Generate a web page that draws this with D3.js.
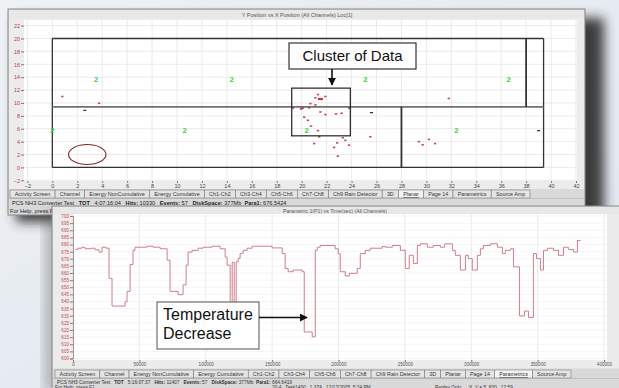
<!DOCTYPE html>
<html><head><meta charset="utf-8">
<script src="https://cdn.jsdelivr.net/npm/d3@7"></script>
<style>
body{margin:0;overflow:hidden;background:#e9eef3}
svg{display:block;font-family:"Liberation Sans",Arial,sans-serif}
</style>
</head><body>
<svg id="c" width="619" height="388"></svg>
<script>
// ---------------- DATA ----------------
// Top chart: Y Position vs X Position
const topXTicks = [-2,0,2,4,6,8,10,12,14,16,18,20,22,24,26,28,30,32,34,36,38,40,42];
const topYTicks = [-2,0,2,4,6,8,10,12,14,16,18,20,22];
const sensorX = [0, 3.5, 10.6, 14.4, 20.4, 25.1, 32.4, 36.6];
const sensorY = [5.7, 13.7, 5.7, 13.7, 5.8, 13.7, 5.8, 13.7];
const eventX = [0.8, 3.75, 19.3, 20.0, 20.2, 20.5, 27.3, 27.8, 31.8, 25.5, 29.4, 29.7, 30.2, 30.7,
  21.3, 21.1, 21.9, 21.1, 20.6, 20.1, 21.5, 21.9, 22.75, 23.2, 23.8, 20.75, 21.3, 21.4, 21.0,
  23.3, 22.85, 23.5, 23.8, 22.6, 22.9, 20.7, 19.95];
const eventY = [11.0, 9.95, 9.2, 9.2, 7.8, 7.3, 15.5, 15.8, 10.7, 4.75, 4.0, 3.5, 4.35, 3.7,
  11.3, 10.8, 11.0, 9.7, 9.25, 9.2, 8.6, 8.2, 8.3, 8.4, 9.2, 6.4, 5.7, 4.75, 3.7,
  4.6, 3.8, 4.2, 3.45, 3.1, 1.75, 9.9, 9.05];
const brightX = [21.5];
const brightY = [10.6];
const darkX = [2.6, 25.6, 39.0];
const darkY = [8.85, 8.5, 5.7];
const layoutSegX1 = [0, 39.4, 39.4, 0, 0, 38, 28];
const layoutSegY1 = [0, 0, 20, 20, 9.4, 9.4, 0];
const layoutSegX2 = [39.4, 39.4, 0, 0, 39.4, 38, 28];
const layoutSegY2 = [0, 20, 20, 0, 9.4, 20, 9.4];
const ellipseC = [2.8, 2.0];
const ellipseR = [1.5, 1.55];

// Bottom chart: Parametric 1 (P1) vs Time
const stepTime = [1500,3770,6790,9050,13570,16590,19600,21870,24880,27140,29400,39200,40700,43000,45200,46700,
  55800,60300,65600,70900,73100,79200,82900,85200,86700,89700,94300,98000,104800,110800,114600,116100,
  118400,119900,121400,122900,124400,125900,128200,131200,135000,150000,157600,159800,162100,165900,
  172700,174200,180200,182500,184000,186200,197500,199800,201300,205100,208100,214100,216400,220200,
  223900,233000,235200,240500,246600,250300,253300,256400,259400,261600,266900,271400,276700,280000,
  285800,288000,291800,295600,297800,300800,304600,306900,309100,314400,319700,323500,325700,329500,
  331800,336300,340100,343100,346800,349100,352100,354400,357400,361900,365700,369500,373200,377000,380000];
const stepValue = [676.6,677.4,678.1,677.0,677.4,676.3,674.7,678.1,677.4,656.3,636.8,639.8,647.1,666.0,675.9,678.1,
  678.8,678.1,677.0,669.0,647.1,644.8,651.7,665.5,674.7,675.9,677.4,678.1,678.8,677.0,671.2,665.5,
  637.9,667.6,637.9,667.8,670.3,673.8,675.9,677.4,678.8,677.6,673.6,663.2,660.9,662.1,
  660.9,618.6,615.2,675.9,678.1,679.3,677.0,673.6,660.9,657.9,659.8,663.2,673.6,675.9,
  677.4,678.6,678.1,679.3,675.9,663.2,672.4,666.7,679.3,680.5,678.1,679.3,678.1,680.5,
  675.9,672.4,662.1,672.4,670.1,662.1,672.4,677.0,679.3,680.5,678.1,673.6,675.9,677.0,
  664.3,629.9,633.3,628.8,673.6,670.1,662.1,675.9,677.4,675.9,672.4,678.1,676.5,674.7,682.8];
const stepEnd = 382300;
const botXTicks = [0,50000,100000,150000,200000,250000,300000,350000,400000];
const botYTicks = d3.range(600, 701, 5);

const tabNames = ["Activity Screen","Channel","Energy NonCumulative","Energy Cumulative","Ch1-Ch2","Ch3-Ch4",
  "Ch5-Ch6","Ch7-Ch8","Ch9 Rain Detector","3D","Planar","Page 14","Parametrics","Source Amp"];

// ---------------- DRAW ----------------
const svg = d3.select("#c");
const defs = svg.append("defs");
const bg = defs.append("linearGradient").attr("id","bg").attr("x1",0).attr("y1",0).attr("x2",1).attr("y2",1);
bg.append("stop").attr("offset",0).attr("stop-color","#eef1f5");
bg.append("stop").attr("offset",1).attr("stop-color","#dfe6ee");
svg.append("rect").attr("width",619).attr("height",388).attr("fill","url(#bg)");

const f = defs.append("filter").attr("id","blur").attr("x","-20%").attr("y","-30%").attr("width","140%").attr("height","160%");
f.append("feGaussianBlur").attr("stdDeviation",6);
defs.append("marker").attr("id","arr").attr("viewBox","0 0 10 10").attr("refX",9).attr("refY",5)
  .attr("markerWidth",5).attr("markerHeight",5).attr("orient","auto")
  .append("path").attr("d","M0,0L10,5L0,10z").attr("fill","#111");

// shadow of top window
svg.append("rect").attr("x",16).attr("y",18).attr("width",588).attr("height",204)
  .attr("fill","#2a2a2a").attr("opacity",0.9).attr("filter","url(#blur)");

function drawTabs(g, x0, x1, y, selected){
  const fs = 5.4;
  const tg = g.append("g");
  const items = tabNames.map(n => {
    const t = tg.append("text").attr("font-size",fs).attr("fill","#333").text(n);
    return {n, t, w: t.node().getComputedTextLength()};
  });
  const total = d3.sum(items, d => d.w);
  const pad = ((x1 - x0) - total) / items.length;
  let x = x0;
  items.forEach(d => {
    const w = d.w + pad;
    tg.insert("rect","text").attr("x",x).attr("y",y-6).attr("width",w).attr("height",8)
      .attr("fill", d.n === selected ? "#f4f4f4" : "#e4e4e4").attr("stroke","#7a7a7a").attr("stroke-width",0.6);
    d.t.attr("x", x + pad/2).attr("y", y);
    if (d.n === selected) d.t.attr("text-decoration","underline");
    x += w;
  });
}

// ---- Top window ----
const TW = svg.append("g");
TW.append("rect").attr("x",8).attr("y",9).attr("width",577).attr("height",206).attr("fill","#d9d9d9").attr("stroke","#8a8a8a");
TW.append("rect").attr("x",9).attr("y",10).attr("width",575).attr("height",9).attr("fill","#e8e8e8");
TW.append("text").attr("x",297).attr("y",17).attr("text-anchor","middle").attr("font-size",5.5).attr("fill","#555")
  .text("Y Position vs X Position (All Channels) Loc[1]");
TW.append("rect").attr("x",9).attr("y",19).attr("width",575).attr("height",170).attr("fill","#ececec");
TW.append("rect").attr("x",24).attr("y",20).attr("width",553).attr("height",161).attr("fill","#ffffff");

const xT = d3.scaleLinear().domain([-2,42]).range([27.4,576]);
const yT = d3.scaleLinear().domain([-2,22]).range([180.3,25.6]);

TW.append("g").selectAll("line").data(topXTicks).join("line")
  .attr("x1",d=>xT(d)).attr("x2",d=>xT(d)).attr("y1",20).attr("y2",181).attr("stroke","#e2e2e2").attr("stroke-width",0.7);
TW.append("g").selectAll("line").data(topYTicks).join("line")
  .attr("x1",24).attr("x2",577).attr("y1",d=>yT(d)).attr("y2",d=>yT(d)).attr("stroke","#e2e2e2").attr("stroke-width",0.7);

const yAxT = TW.append("g").attr("transform","translate(24,0)")
  .call(d3.axisLeft(yT).tickValues(topYTicks).tickSize(3).tickPadding(1));
yAxT.select(".domain").remove();
yAxT.selectAll("text").attr("fill","#c23a3a").attr("font-size",5.5).attr("font-family","Liberation Sans, Arial");
yAxT.selectAll("line").attr("stroke","#777");
const xAxT = TW.append("g").attr("transform","translate(0,181)")
  .call(d3.axisBottom(xT).tickValues(topXTicks).tickSize(2).tickPadding(1));
xAxT.select(".domain").remove();
xAxT.selectAll("text").attr("fill","#444").attr("font-size",5.5).attr("font-family","Liberation Sans, Arial");
xAxT.selectAll("line").attr("stroke","#777");

// layout lines
TW.append("g").selectAll("line").data(layoutSegX1).join("line")
  .attr("x1",(d,i)=>xT(layoutSegX1[i])).attr("y1",(d,i)=>yT(layoutSegY1[i]))
  .attr("x2",(d,i)=>xT(layoutSegX2[i])).attr("y2",(d,i)=>yT(layoutSegY2[i]))
  .attr("stroke",(d,i)=> i===4 ? "#707070" : "#333")
  .attr("stroke-width",(d,i)=> i>=4 ? 1.8 : 1.3);

TW.append("ellipse").attr("cx",xT(ellipseC[0])).attr("cy",yT(ellipseC[1]))
  .attr("rx",xT(ellipseR[0])-xT(0)).attr("ry",yT(0)-yT(ellipseR[1]))
  .attr("fill","none").attr("stroke","#7b2c2c").attr("stroke-width",1.1);

TW.append("g").selectAll("rect").data(eventX).join("rect")
  .attr("x",(d,i)=>xT(d)-1.2).attr("y",(d,i)=>yT(eventY[i])-0.8).attr("width",2.4).attr("height",1.6)
  .attr("fill","#b3324a").attr("opacity",0.85);
TW.append("g").selectAll("rect").data(brightX).join("rect")
  .attr("x",d=>xT(d)-2.5).attr("y",(d,i)=>yT(brightY[i])-1).attr("width",5).attr("height",2).attr("fill","#e0202a");
TW.append("g").selectAll("rect").data(darkX).join("rect")
  .attr("x",d=>xT(d)-1.5).attr("y",(d,i)=>yT(darkY[i])-0.6).attr("width",3).attr("height",1.2).attr("fill","#3a2424");
TW.append("g").selectAll("text").data(sensorX).join("text")
  .attr("x",d=>xT(d)).attr("y",(d,i)=>yT(sensorY[i])+2.5).attr("text-anchor","middle")
  .attr("font-size",7.5).attr("font-weight","bold").attr("fill","#3ccf3c").text("2");

// cluster annotation
TW.append("rect").attr("x",xT(19.2)).attr("y",yT(12.3)).attr("width",xT(23.9)-xT(19.2)).attr("height",yT(4.9)-yT(12.3))
  .attr("fill","none").attr("stroke","#222").attr("stroke-width",1.2);
TW.append("rect").attr("x",289).attr("y",43).attr("width",127).attr("height",26).attr("fill","#fff").attr("stroke","#333").attr("stroke-width",1.2);
TW.append("text").attr("x",352.5).attr("y",61).attr("text-anchor","middle").attr("font-size",15).attr("fill","#111").text("Cluster of Data");
TW.append("line").attr("x1",332).attr("y1",69).attr("x2",332).attr("y2",85).attr("stroke","#111").attr("stroke-width",1.6).attr("marker-end","url(#arr)");

// tabs + status
drawTabs(TW, 10, 530, 196, "Planar");
const st1 = TW.append("text").attr("x",12).attr("y",205).attr("font-size",5.6).attr("fill","#222");
[["PCS NH3 Converter Test   ",0],["TOT",1],["   4:07:16:04   ",0],["Hits:",1],[" 10330   ",0],["Events:",1],[" 57   ",0],
 ["DiskSpace:",1],[" 377Mb  ",0],["Para1:",1],[" 676.5424",0]].forEach(p=>{
  st1.append("tspan").attr("font-weight",p[1]?"bold":"normal").attr("xml:space","preserve").text(p[0]);
});
st1.attr("xml:space","preserve");
TW.append("line").attr("x1",9).attr("x2",584).attr("y1",198.5).attr("y2",198.5).attr("stroke","#aaa").attr("stroke-width",0.5);
TW.append("text").attr("x",10).attr("y",212.5).attr("font-size",5.6).attr("fill","#222").text("For Help, press F1");

// ---- Bottom window ----
svg.append("rect").attr("x",44).attr("y",212).attr("width",20).attr("height",180)
  .attr("fill","#555").attr("opacity",0.35).attr("filter","url(#blur)");
const BW = svg.append("g");
BW.append("rect").attr("x",52).attr("y",206).attr("width",570).attr("height",186).attr("fill","#d9d9d9").attr("stroke","#8a8a8a");
BW.append("rect").attr("x",53).attr("y",207).attr("width",566).attr("height",6.5).attr("fill","#e8e8e8");
BW.append("text").attr("x",335).attr("y",212.5).attr("text-anchor","middle").attr("font-size",5.2).attr("fill","#555")
  .text("Parametric 1(P1) vs Time(sec) (All Channels)");
BW.append("rect").attr("x",53).attr("y",213.5).attr("width",566).attr("height",155).attr("fill","#ececec");
BW.append("rect").attr("x",73).attr("y",214).attr("width",534).attr("height",146).attr("fill","#ffffff");

const xB = d3.scaleLinear().domain([0,400000]).range([73,604]);
const yB = d3.scaleLinear().domain([600,700]).range([358.5,216]);

BW.append("g").selectAll("line").data(botXTicks).join("line")
  .attr("x1",d=>xB(d)).attr("x2",d=>xB(d)).attr("y1",214).attr("y2",360).attr("stroke","#e4e4e4").attr("stroke-width",0.8);
BW.append("g").selectAll("line").data(botYTicks).join("line")
  .attr("x1",73).attr("x2",607).attr("y1",d=>yB(d)).attr("y2",d=>yB(d)).attr("stroke","#f0f0f0").attr("stroke-width",0.7);

const yAxB = BW.append("g").attr("transform","translate(73,0)")
  .call(d3.axisLeft(yB).tickValues(botYTicks).tickSize(3).tickPadding(1));
yAxB.select(".domain").attr("stroke","#999");
yAxB.selectAll("text").attr("fill","#d04a4a").attr("font-size",4.6).attr("font-family","Liberation Sans, Arial");
yAxB.selectAll("line").attr("stroke","#c66");
const xAxB = BW.append("g").attr("transform","translate(0,360)")
  .call(d3.axisBottom(xB).tickValues(botXTicks).tickSize(2).tickPadding(1).tickFormat(d3.format("d")));
xAxB.select(".domain").remove();
xAxB.selectAll("text").attr("fill","#555").attr("font-size",4.6).attr("font-family","Liberation Sans, Arial");
xAxB.selectAll("line").attr("stroke","#777");

const stepPts = stepTime.map((t,i)=>[t, stepValue[i]]);
stepPts.push([stepEnd, stepValue[stepValue.length-1]]);
const lineGen = d3.line().x(d=>xB(d[0])).y(d=>yB(d[1])).curve(d3.curveStepAfter);
BW.append("path").attr("d",lineGen(stepPts)).attr("fill","none").attr("stroke","#cf7f8a").attr("stroke-width",1);

// temperature annotation
BW.append("rect").attr("x",157).attr("y",302).attr("width",102).attr("height",47).attr("fill","#fff").attr("stroke","#555").attr("stroke-width",1);
BW.append("text").attr("x",163).attr("y",320).attr("font-size",16).attr("fill","#111").text("Temperature");
BW.append("text").attr("x",163).attr("y",339).attr("font-size",16).attr("fill","#111").text("Decrease");
BW.append("line").attr("x1",259).attr("y1",317.5).attr("x2",307).attr("y2",317.5).attr("stroke","#111").attr("stroke-width",1.6).attr("marker-end","url(#arr)");

drawTabs(BW, 55, 571, 376, "Parametrics");
BW.append("line").attr("x1",53).attr("x2",619).attr("y1",378.5).attr("y2",378.5).attr("stroke","#aaa").attr("stroke-width",0.5);
const st2 = BW.append("text").attr("x",57).attr("y",383.5).attr("font-size",4.8).attr("fill","#333").attr("xml:space","preserve");
[["PCS NH3 Converter Test   ",0],["TOT",1],["   5:16:07:37   ",0],["Hits:",1],[" 11407   ",0],["Events:",1],[" 57   ",0],
 ["DiskSpace:",1],[" 377Mb  ",0],["Para1:",1],[" 664.6419",0]].forEach(p=>{
  st2.append("tspan").attr("font-weight",p[1]?"bold":"normal").text(p[0]);
});
BW.append("text").attr("x",55).attr("y",388.5).attr("font-size",4.8).attr("fill","#333").text("For Help, press F1");
BW.append("text").attr("x",272).attr("y",388.5).attr("font-size",4.8).attr("fill","#333").attr("xml:space","preserve").text("20.4   Task1400   1.37A   12/17/2005  5:24 PM");
BW.append("text").attr("x",435).attr("y",388.5).attr("font-size",4.8).attr("fill","#333").attr("xml:space","preserve").text("Replay Only      X, Y = 5, 600   12:59");
</script>
</body></html>
